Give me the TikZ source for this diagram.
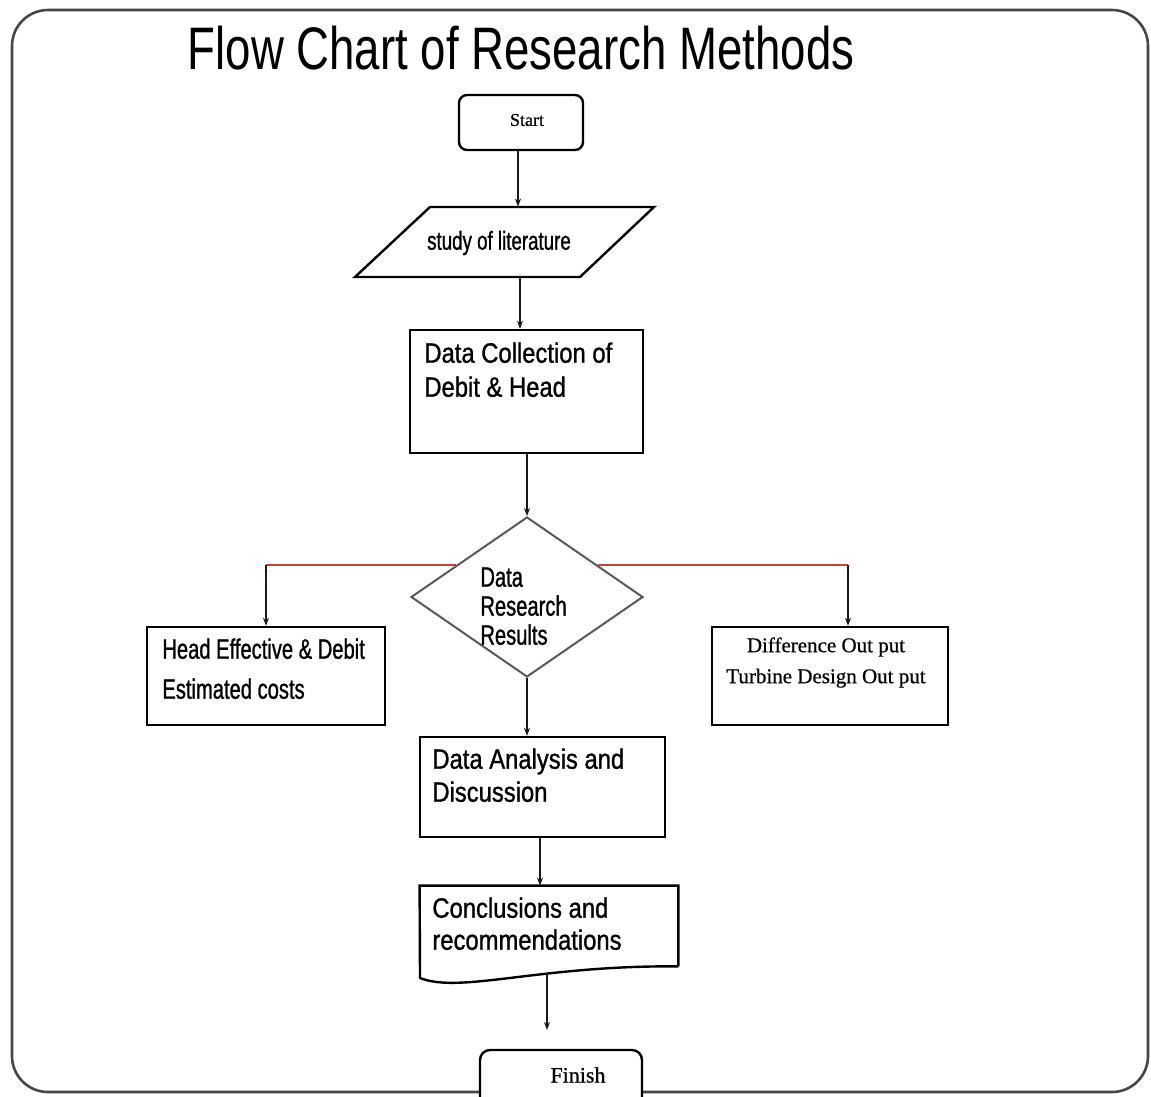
\documentclass[tikz,border=0pt]{standalone}
\usepackage{fontspec}
\usetikzlibrary{arrows.meta,shapes.geometric,calc}
\newfontfamily\narrowf[FakeStretch=0.85,FakeBold=1]{Liberation Sans}
\newfontfamily\narrowtight[FakeStretch=0.72,FakeBold=1]{Liberation Sans}
\newfontfamily\titlef[FakeStretch=0.76]{Liberation Sans}
\newfontfamily\seriff[FakeBold=0.6]{Liberation Serif}
\definecolor{redline}{RGB}{200,65,45}
\definecolor{framec}{RGB}{70,70,70}
\tikzset{
  boxs/.style={draw=black, line width=1.2pt, rectangle, inner sep=0pt, fill=white},
  txt/.style={inner sep=0pt, align=left, font=\narrowf\fontsize{14}{17}\selectfont},
  conn/.style={draw=black!90, line width=0.75pt, -{Stealth[length=4pt,width=3pt]}},
  plain/.style={draw=black!85, line width=0.7pt}
}
\begin{document}
\begin{tikzpicture}[x=0.5pt,y=-0.5pt]
\useasboundingbox (0,0) rectangle (1151,1097);
\fill[white] (0,0) rectangle (1151,1097);
% outer frame
\draw[framec, line width=1.3pt, rounded corners=18pt] (12,10) rectangle (1148,1092);
% title
\node[inner sep=0pt, font=\titlef\fontsize{30}{30}\selectfont] (title) at (521,48) {Flow Chart of Research Methods};
% start
\node[boxs, rounded corners=4pt, minimum width=62pt, minimum height=27.5pt] (start) at (521,122.5) {};
\node[inner sep=0pt, font=\seriff\fontsize{9}{9}\selectfont] (starttxt) at (527,120) {Start};
% literature (parallelogram)
\node[inner sep=0pt, minimum width=149.5pt, minimum height=35pt] (lit) at (504.5,242) {};
\draw[black, line width=1.2pt, fill=white] (430,207) -- (654,207) -- (580,277) -- (355,277) -- cycle;
\node[inner sep=0pt, font=\narrowtight\fontsize{13}{13}\selectfont] (littxt) at (499,243) {study of literature};
% data collection
\node[boxs, minimum width=116.5pt, minimum height=61.5pt] (coll) at (526.5,391.5) {};
\node[txt, anchor=north west] (colltxt) at (424,342) {Data Collection of\\Debit \& Head};
% diamond
\node[draw=black!65, line width=1pt, diamond, minimum width=116pt, minimum height=80pt, inner sep=0pt, fill=white] (dia) at (527,597) {};
\node[txt, anchor=north west, font=\narrowtight\fontsize{14}{14.5}\selectfont] (diatxt) at (480,567) {Data\\Research\\Results};
% side boxes
\node[boxs, minimum width=119pt, minimum height=49pt] (left) at (266,676) {};
\node[txt, anchor=north west, font=\narrowtight\fontsize{14}{20}\selectfont] (lefttxt) at (162,638) {Head Effective \& Debit\\Estimated costs};
\node[boxs, minimum width=118pt, minimum height=49pt] (right) at (830,676) {};
\node[inner sep=0pt, align=center, anchor=north, font=\seriff\fontsize{10.5}{15.5}\selectfont] (righttxt) at (826,637) {Difference Out put\\Turbine Design Out put};
% analysis
\node[boxs, minimum width=122.5pt, minimum height=50pt] (ana) at (542.5,787) {};
\node[txt, anchor=north west, font=\narrowf\fontsize{14}{16.5}\selectfont] (anatxt) at (432,748) {Data Analysis and\\Discussion};
% document
\node[inner sep=0pt, minimum width=129pt, minimum height=40pt] (doc) at (549,926) {};
\draw[black, line width=1.2pt, fill=white] (doc.south east) -- (doc.north east) -- (doc.north west) -- (420,978)
  .. controls (460,994) and (540,965) .. (doc.south east);
\node[txt, anchor=north west, font=\narrowf\fontsize{14}{16}\selectfont] (doctxt) at (432,897) {Conclusions and\\recommendations};
% finish
\begin{scope}
\clip (0,0) rectangle (1151,1097);
\node[boxs, rounded corners=5pt, minimum width=81pt, minimum height=30pt] (fin) at (561,1080) {};
\end{scope}
\node[inner sep=0pt, font=\seriff\fontsize{11}{11}\selectfont] (fintxt) at (578,1075) {Finish};
% connectors
\draw[conn] (start.south -| 518,0) -- (lit.north -| 518,0);
\draw[conn] (lit.south -| 520,0) -- (coll.north -| 520,0);
\draw[conn] (coll.south -| dia.north) -- (dia.north);
\coordinate (dl) at ($(dia.north)!0.61!(dia.west)$);
\coordinate (dr) at ($(dia.north)!0.61!(dia.east)$);
\coordinate (lc) at (dl -| left.north);
\coordinate (rc) at (dr -| 848,0);
\draw[redline, line width=1pt] (dl) -- (lc);
\draw[redline, line width=1pt] (dr) -- (rc);
\draw[conn] (lc) -- (left.north);
\draw[conn] (rc) -- (rc |- right.north);
\draw[conn] (dia.south) -- (dia.south |- ana.north);
\draw[conn] (ana.south -| 540,0) -- (doc.north -| 540,0);
\coordinate (docb) at (547,973);
\coordinate (fintip) at (547,1030);
\draw[conn] (docb) -- (fintip);
\end{tikzpicture}
\end{document}
